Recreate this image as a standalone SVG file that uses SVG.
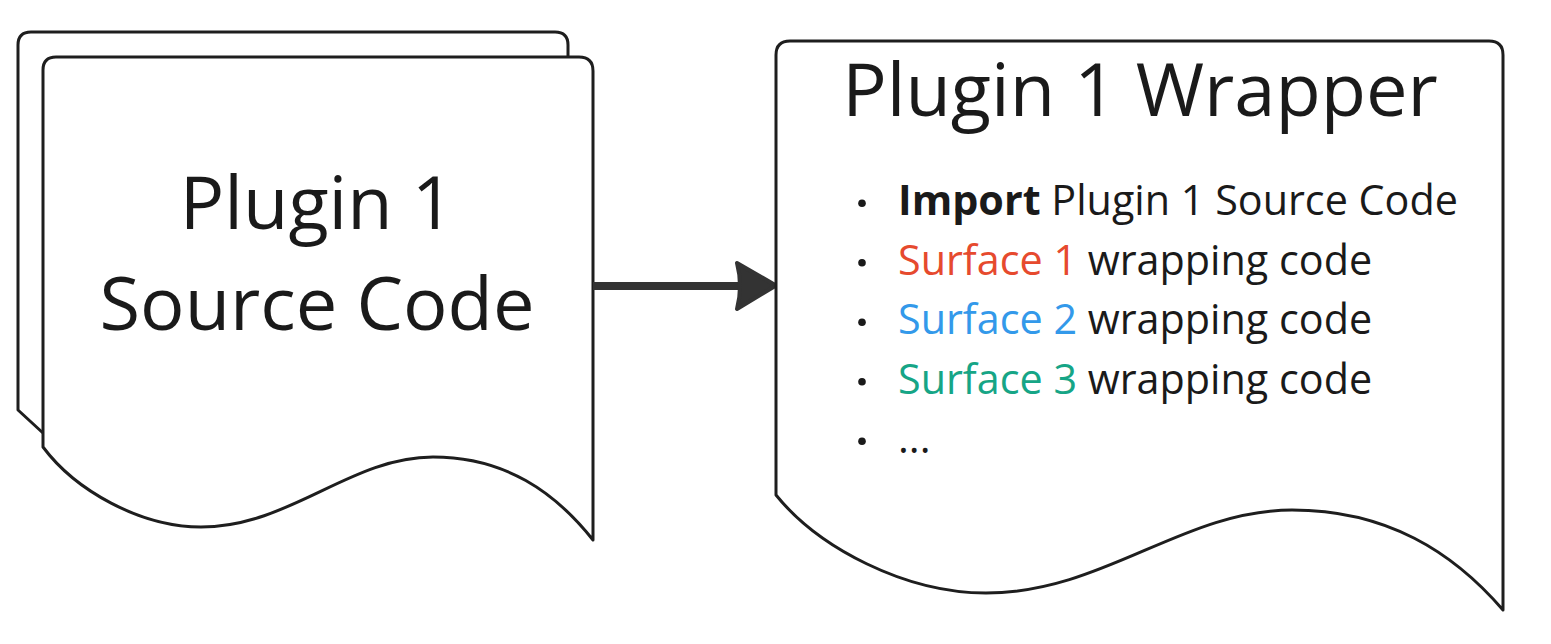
<svg xmlns="http://www.w3.org/2000/svg" width="1551" height="644" viewBox="0 0 1551 644">
<style>
.doc{fill:#ffffff;stroke:#1e1e1e;stroke-width:3;stroke-linejoin:round}
.big{font-family:"Open Sans","Noto Sans",sans-serif;font-size:74px;fill:#1a1a1a;text-anchor:middle}
.li{font-family:"Open Sans","Noto Sans",sans-serif;font-size:41.3px;fill:#1a1a1a}
.b{font-weight:bold}
.red{fill:#e64a2e}
.blue{fill:#3399ea}
.green{fill:#16a586}
.dot{fill:#1a1a1a}
</style>
<rect width="1551" height="644" fill="#ffffff"/>
<g id="node-source-back">
<path class="doc" d="M43,433 L18,410 L18,45 Q18,32 31,32 L555,32 Q568,32 568,45 L568,57"/>
</g>
<g id="node-source">
<path class="doc" d="M43,447 L43,70 Q43,57 56,57 L579,57 Q593,57 593,71 L593,540 C555,492 505,457 433,457 C350,457 290,527 201,527 C140,527 75,490 43,447 Z"/>
<text class="big" x="317" y="229">Plugin 1</text>
<text class="big" x="317" y="330">Source Code</text>
</g>
<g id="connectors">
<line x1="593" y1="286" x2="742" y2="286" stroke="#333333" stroke-width="8"/>
<path d="M737,263 L776,285.5 L737,309 Q743,286 737,263 Z" fill="#333333" stroke="#333333" stroke-width="4" stroke-linejoin="round"/>
</g>
<g id="node-wrapper">
<path class="doc" d="M776,495 L776,55 Q776,41 790,41 L1489,41 Q1503,41 1503,55 L1503,610 C1453,552 1387,510 1292,510 C1182.5,510 1103.5,593 986,593 C905,593 818.5,547.7 776,495 Z"/>
<text class="big" x="1140" y="116">Plugin 1 Wrapper</text>
<circle class="dot" cx="862" cy="203.3" r="3.8"/>
<circle class="dot" cx="862" cy="262.8" r="3.8"/>
<circle class="dot" cx="862" cy="322.3" r="3.8"/>
<circle class="dot" cx="862" cy="381.8" r="3.8"/>
<circle class="dot" cx="862" cy="441.3" r="3.8"/>
<text class="li" x="898" y="215"><tspan class="b">Import</tspan> Plugin 1 Source Code</text>
<text class="li" x="898" y="274.5"><tspan class="red">Surface 1</tspan> wrapping code</text>
<text class="li" x="898" y="334"><tspan class="blue">Surface 2</tspan> wrapping code</text>
<text class="li" x="898" y="393.5"><tspan class="green">Surface 3</tspan> wrapping code</text>
<text class="li" x="898" y="453">...</text>
</g>
</svg>
